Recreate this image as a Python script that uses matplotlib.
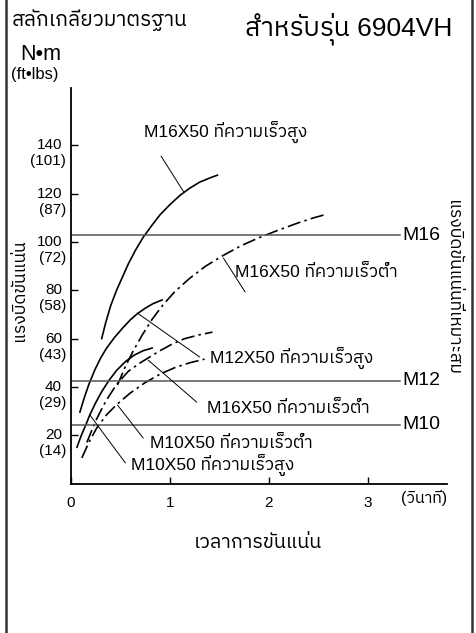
import matplotlib
matplotlib.use('Agg')
from matplotlib import pyplot as plt
from matplotlib import font_manager, ft2font
import matplotlib.transforms as mtransforms

# find an installed family that has Thai glyphs
thai_fonts = []
for fe in font_manager.fontManager.ttflist:
    try:
        if 0x0E01 in ft2font.FT2Font(fe.fname).get_charmap():
            thai_fonts.append(fe.name)
    except Exception:
        pass
thai_fonts = sorted(set(thai_fonts), key=lambda n: ('Sans' not in n, n))
plt.rcParams['font.family'] = ['Liberation Sans'] + thai_fonts[:1] + ['DejaVu Sans']

# data (time [s], torque [N*m])
m16_high_t = [0.31, 0.35, 0.40, 0.46, 0.52, 0.58, 0.65, 0.73, 0.81, 0.90, 1.00, 1.10, 1.20, 1.30, 1.40, 1.48]
m16_high_y = [60.0, 66.5, 73.5, 80.0, 85.5, 91.0, 96.5, 102.0, 106.5, 111.3, 115.5, 119.3, 122.3, 124.8, 126.5, 127.7]
m16_low_t = [0.47, 0.55, 0.63, 0.72, 0.82, 0.93, 1.05, 1.20, 1.36, 1.54, 1.72, 1.90, 2.10, 2.30, 2.45, 2.59]
m16_low_y = [40.8, 48.5, 55.0, 61.5, 68.0, 74.0, 79.5, 85.0, 90.0, 94.5, 98.5, 101.8, 105.0, 108.0, 110.0, 111.6]
m12_high_t = [0.09, 0.13, 0.18, 0.24, 0.30, 0.36, 0.44, 0.52, 0.60, 0.67, 0.75, 0.83, 0.92]
m12_high_y = [29.6, 35.0, 41.0, 47.0, 52.0, 56.1, 60.5, 64.3, 67.8, 70.3, 72.6, 74.5, 76.0]
m12_low_t = [0.16, 0.25, 0.35, 0.46, 0.58, 0.70, 0.80, 0.90, 1.02, 1.15, 1.30, 1.43]
m12_low_y = [17.0, 26.0, 34.0, 41.0, 46.5, 50.0, 52.5, 55.0, 57.7, 60.0, 61.6, 62.7]
m10_high_t = [0.06, 0.10, 0.15, 0.19, 0.25, 0.31, 0.38, 0.46, 0.55, 0.64, 0.73, 0.82]
m10_high_y = [15.0, 19.5, 24.3, 28.4, 33.5, 38.0, 42.5, 46.8, 50.5, 53.2, 55.0, 56.1]
m10_low_t = [0.11, 0.18, 0.26, 0.36, 0.47, 0.60, 0.75, 0.90, 1.05, 1.20, 1.35]
m10_low_y = [10.6, 17.0, 23.0, 28.5, 33.0, 37.5, 41.8, 45.3, 48.0, 50.0, 51.5]

# recommended torque per bolt size
bolt_names = ['M16', 'M12', 'M10']
bolt_torque = [102.9, 42.6, 24.4]

nm_ticks = [20, 40, 60, 80, 100, 120, 140]
ftlb_ticks = ['(14)', '(29)', '(43)', '(58)', '(72)', '(87)', '(101)']
sec_ticks = [0, 1, 2, 3]

fig = plt.figure(figsize=(4.76, 6.33), dpi=100)
ax = fig.add_axes([71 / 476, 1 - 483.5 / 633, 376 / 476, 395.5 / 633])
ax.set_xlim(0, 3.8)
ax.set_ylim(0, 163.8)
for s in ['top', 'right']:
    ax.spines[s].set_visible(False)
ax.spines['left'].set_linewidth(1.3)
ax.spines['bottom'].set_linewidth(1.3)

dashdot = (0, (8, 2.5, 1.5, 2.5))
lw = 1.2
ax.plot(m16_high_t, m16_high_y, color='k', lw=lw)
ax.plot(m16_low_t, m16_low_y, color='k', lw=lw, linestyle=dashdot)
ax.plot(m12_high_t, m12_high_y, color='k', lw=lw)
ax.plot(m12_low_t, m12_low_y, color='k', lw=lw, linestyle=dashdot)
ax.plot(m10_high_t, m10_high_y, color='k', lw=lw)
ax.plot(m10_low_t, m10_low_y, color='k', lw=lw, linestyle=dashdot)

for name, tq in zip(bolt_names, bolt_torque):
    ax.plot([0, 3.33], [tq, tq], color='#555555', lw=1.1)
    ax.text(3.35, tq, name, fontsize=14, va='center', ha='left')

# ticks
ax.set_xticks(sec_ticks)
ax.set_xticklabels([str(v) for v in sec_ticks], fontsize=11)
ax.tick_params(axis='x', direction='in', length=5, width=1, pad=9)
ax.set_yticks(nm_ticks)
ax.set_yticklabels([])
ax.tick_params(axis='y', direction='in', length=5, width=1)
trans = mtransforms.blended_transform_factory(ax.transAxes, ax.transData)
t2 = trans + mtransforms.ScaledTranslation(0, -16 / 100, fig.dpi_scale_trans)
for v, lab in zip(nm_ticks, ftlb_ticks):
    ax.text(-0.024, v, str(v), transform=trans, ha='right', va='center', fontsize=11)
    ax.text(-0.013, v, lab, transform=t2, ha='right', va='center', fontsize=11)

# unit next to the x tick labels
fig.text(424 / 476, 1 - 498 / 633, '(วินาที)', fontsize=11.5, ha='center', va='center')

# curve labels with leader lines
labels = [
    ('M16X50 ที่ความเร็วสูง', (0.74, 145.5), (0.91, 135.6), (1.14, 120.7)),
    ('M16X50 ที่ความเร็วต่ำ', (1.66, 87.6), (1.76, 79.3), (1.54, 93.4)),
    ('M12X50 ที่ความเร็วสูง', (1.40, 52.0), (1.30, 52.4), (0.67, 70.6)),
    ('M16X50 ที่ความเร็วต่ำ', (1.37, 31.3), (1.27, 33.7), (0.78, 51.1)),
    ('M10X50 ที่ความเร็วต่ำ', (0.80, 16.8), (0.73, 18.8), (0.47, 32.5)),
    ('M10X50 ที่ความเร็วสูง', (0.61, 7.7), (0.55, 8.5), (0.19, 28.4)),
]
for txt, pos, p0, p1 in labels:
    ax.text(pos[0], pos[1], txt, fontsize=12.5, ha='left', va='center')
    ax.annotate('', xy=p1, xytext=p0,
                arrowprops=dict(arrowstyle='-', color='k', lw=0.7,
                                shrinkA=0, shrinkB=0))

# titles and axis captions
fig.text(12 / 476, 1 - 20 / 633, 'สลักเกลียวมาตรฐาน', fontsize=15, ha='left', va='center')
fig.text(452 / 476, 1 - 29 / 633, 'สำหรับรุ่น 6904VH', fontsize=19, ha='right', va='center')
fig.text(41 / 476, 1 - 54 / 633, 'N•m', fontsize=15.5, ha='center', va='center')
fig.text(35 / 476, 1 - 75 / 633, '(ft•lbs)', fontsize=12, ha='center', va='center')
fig.text(20 / 476, 1 - 290 / 633, 'แรงบิดขันแน่น', fontsize=12.5, rotation=90,
         ha='center', va='center')
fig.text(453 / 476, 1 - 287 / 633, 'แรงบิดขันแน่นที่เหมาะสม', fontsize=12.5, rotation=-90,
         ha='center', va='center')
fig.text(258 / 476, 1 - 543 / 633, 'เวลาการขันแน่น', fontsize=14.2, ha='center', va='center')

# side borders of the panel
fig.add_artist(plt.Line2D([6 / 476, 6 / 476], [0, 1], color='#333333', lw=1.8))
fig.add_artist(plt.Line2D([472 / 476, 472 / 476], [0, 1], color='#333333', lw=1.8))

fig.savefig('out.png', dpi=100)
